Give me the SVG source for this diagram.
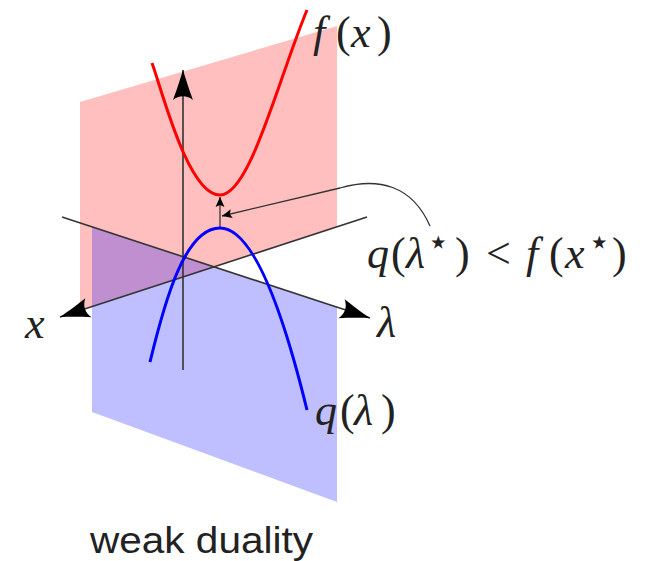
<svg xmlns="http://www.w3.org/2000/svg" width="646" height="561" viewBox="0 0 646 561">
<style>
.axis{fill:none;stroke:#333;stroke-width:1.6}
.thin{fill:none;stroke:#333;stroke-width:1.3}
.math{font-family:"Liberation Serif","DejaVu Serif",serif;font-size:44px;fill:#222}
.it{font-style:italic}
.star{font-family:"DejaVu Serif",serif;font-size:36px}
.cap{font-family:"Liberation Sans","Arial",sans-serif;font-size:37px;fill:#222}
</style>
<defs>
<marker id="big" viewBox="-32 -12 34 24" refX="0" refY="0" markerWidth="34" markerHeight="24" markerUnits="userSpaceOnUse" orient="auto">
<path d="M0,0 C-10,-3 -22,-7 -30,-10 C-25,-4 -25,4 -30,10 C-22,7 -10,3 0,0 Z" fill="#000"/>
</marker>
<marker id="small" viewBox="-12 -6 14 12" refX="0" refY="0" markerWidth="14" markerHeight="12" markerUnits="userSpaceOnUse" orient="auto">
<path d="M0,0 L-10,-4.5 L-8,0 L-10,4.5 Z" fill="#000"/>
</marker>
</defs>
<g id="plane-f">
<polygon points="80,102 337,26 337,227 80,310" fill="#ff0000" fill-opacity="0.25"/>
</g>
<g id="plane-q">
<polygon points="92,227 337,307 337,502 92,412" fill="#0000ff" fill-opacity="0.25"/>
</g>
<g id="connectors">
<line class="axis" x1="62" y1="217" x2="370" y2="318" marker-end="url(#big)"/>
<line class="axis" x1="367" y1="217" x2="60" y2="317" marker-end="url(#big)"/>
<line class="axis" x1="183" y1="370" x2="183" y2="70" marker-end="url(#big)"/>
<line class="thin" x1="220" y1="227" x2="220" y2="197" marker-end="url(#small)"/>
<path class="thin" d="M430,226 C412,185 378,177 340,188 L222,216" marker-end="url(#small)"/>
</g>
<g id="curve-f">
<path d="M152,63 C162,90 188,195 220,195 C250,195 278,80 307,10" fill="none" stroke="#ff0000" stroke-width="3"/>
</g>
<g id="curve-q">
<path d="M150,362 C165,300 185,228 220,228 C255,228 285,320 307,410" fill="none" stroke="#0000ff" stroke-width="3"/>
</g>
<g id="labels">
<text class="math" y="47"><tspan class="it" x="313">f</tspan><tspan x="336">(</tspan><tspan class="it" x="351">x</tspan><tspan x="377">)</tspan></text>
<text class="math" y="268"><tspan class="it" x="367">q</tspan><tspan x="391">(</tspan><tspan class="it" x="406">λ</tspan><tspan class="star" x="427" dy="-14">⋆</tspan><tspan x="455" dy="14">)</tspan><tspan x="486">&lt;</tspan><tspan class="it" x="526">f</tspan><tspan x="549">(</tspan><tspan class="it" x="565">x</tspan><tspan class="star" x="588" dy="-14">⋆</tspan><tspan x="612" dy="14">)</tspan></text>
<text class="math it" x="25" y="338">x</text>
<text class="math it" x="377" y="337">λ</text>
<text class="math" y="425"><tspan class="it" x="315">q</tspan><tspan x="340">(</tspan><tspan class="it" x="354">λ</tspan><tspan x="381">)</tspan></text>
<text class="cap" x="90" y="553" textLength="223" lengthAdjust="spacingAndGlyphs">weak duality</text>
</g>
</svg>
